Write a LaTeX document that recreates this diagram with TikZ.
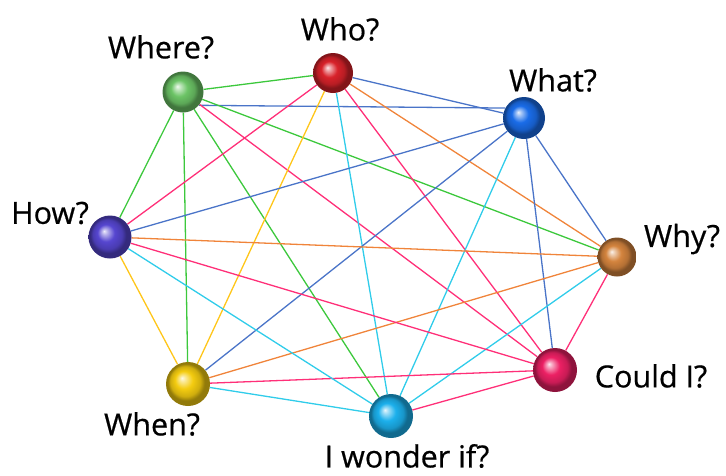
\documentclass[tikz,border=0pt]{standalone}
\usepackage{fontspec}
\setmainfont{Open Sans}
\newfontfamily\lblfont[FakeBold=0.6]{Open Sans}
\usetikzlibrary{backgrounds}
\definecolor{lgreen}{HTML}{3CC83C}
\definecolor{lblue}{HTML}{4A74C8}
\definecolor{lpink}{HTML}{FF2F78}
\definecolor{lorange}{HTML}{F0843A}
\definecolor{lyellow}{HTML}{FFC61A}
\definecolor{lcyan}{HTML}{30CCEA}
\definecolor{bgreen}{HTML}{6CC466}
\definecolor{bred}{HTML}{D8222A}
\definecolor{bblue}{HTML}{1A6CE8}
\definecolor{borange}{HTML}{D4843E}
\definecolor{bpink}{HTML}{EC2064}
\definecolor{bcyan}{HTML}{1CB0EC}
\definecolor{byellow}{HTML}{F4CC10}
\definecolor{bpurple}{HTML}{5646D0}
\colorlet{mbc}{red}
\pgfdeclareradialshading[mbc]{myball}{\pgfpoint{-7bp}{7bp}}{%
  color(0bp)=(mbc!10!white); color(3bp)=(mbc!40!white); color(10bp)=(mbc);
  color(17bp)=(mbc!85!black); color(21bp)=(mbc!60!black); color(30bp)=(mbc!60!black)}
\tikzset{
  ballnode/.style={circle, inner sep=0pt, minimum size=#1},
  bc/.style={/utils/exec={\colorlet{mbc}{#1}}, shading=myball},
  lbl/.style={font=\lblfont\fontsize{30.5}{33}\selectfont, inner sep=0pt},
  edge/.style={line width=1.3pt}
}
\begin{document}
\begin{tikzpicture}[x=1pt,y=-1pt]
\useasboundingbox (0,0) rectangle (726,475);
\node[ballnode=41pt, bc=bgreen] (where) at (183,92) {};
\node[ballnode=40pt, bc=bred] (who) at (333,73) {};
\node[ballnode=42pt, bc=bblue] (what) at (524,118) {};
\node[ballnode=39pt, bc=borange] (why) at (617,257) {};
\node[ballnode=44pt, bc=bpink] (could) at (555,370) {};
\node[ballnode=44pt, bc=bcyan] (wonder) at (391,416) {};
\node[ballnode=44pt, bc=byellow] (when) at (188,384) {};
\node[ballnode=43pt, bc=bpurple] (how) at (110,237) {};

\node[lbl] (lwhere) at (161,47) {Where?};
\node[lbl] (lwho) at (340,29) {Who?};
\node[lbl] (lwhat) at (553,80) {What?};
\node[lbl] (lwhy) at (682,239) {Why?};
\node[lbl] (lcould) at (651,376) {Could I?};
\node[lbl] (lwonder) at (407,456) {I wonder if?};
\node[lbl] (lwhen) at (152,424) {When?};
\node[lbl] (lhow) at (50,213) {How?};

\begin{scope}[on background layer]
\draw[edge, lgreen] (where) -- (who);
\draw[edge, lblue] (where.-40) -- (what.152);
\draw[edge, lgreen] (where) -- (how);
\draw[edge, lgreen] (where) -- (when);
\draw[edge, lgreen] (where) -- (wonder);
\draw[edge, lgreen] (where) -- (why);
\draw[edge, lpink] (where) -- (could);
\draw[edge, lblue] (who) -- (what);
\draw[edge, lpink] (who) -- (how);
\draw[edge, lyellow] (who) -- (when);
\draw[edge, lcyan] (who) -- (wonder);
\draw[edge, lpink] (who) -- (could);
\draw[edge, lorange] (who) -- (why);
\draw[edge, lblue] (what) -- (how);
\draw[edge, lblue] (what) -- (when);
\draw[edge, lcyan] (what) -- (wonder);
\draw[edge, lblue] (what) -- (could);
\draw[edge, lblue] (what) -- (why);
\draw[edge, lorange] (why) -- (how);
\draw[edge, lorange] (why) -- (when);
\draw[edge, lcyan] (why) -- (wonder);
\draw[edge, lpink] (why) -- (could);
\draw[edge, lpink] (could) -- (how);
\draw[edge, lpink] (could) -- (when);
\draw[edge, lpink] (could) -- (wonder);
\draw[edge, lyellow] (how) -- (when);
\draw[edge, lcyan] (how) -- (wonder);
\draw[edge, lcyan] (when) -- (wonder);
\end{scope}
\end{tikzpicture}
\end{document}
